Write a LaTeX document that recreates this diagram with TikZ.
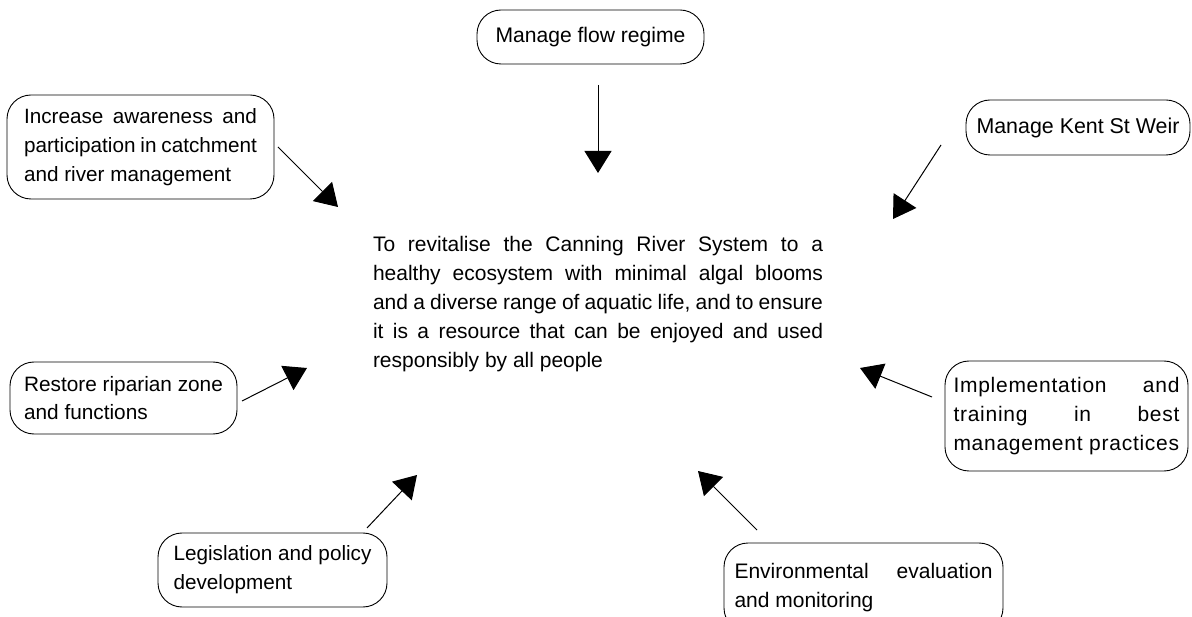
\documentclass[tikz,border=0pt]{standalone}
\usepackage{fontspec}
\setmainfont{Liberation Sans}
\newfontfamily\lsfont[LetterSpace=3.5]{Liberation Sans}
\usetikzlibrary{arrows.meta}
\newcommand{\jline}[2]{\hbox to #1{\spaceskip=0.278em plus 1.5em minus 0.12em\xspaceskip=\spaceskip #2}}
\begin{document}
\begin{tikzpicture}[x=1pt,y=-1pt,
  box/.style={draw, line width=0.9pt, rounded corners=24pt, inner sep=0pt, align=left,
    font=\fontsize{20.7}{28.8}\selectfont},
  arr/.style={line width=1pt, -{Triangle[length=22pt,width=27pt]}},
  goaltext/.style={inner sep=0pt, align=left,
    font=\fontsize{21}{29}\selectfont}]
\useasboundingbox (0,0) rectangle (1192,617);
\clip (0,0) rectangle (1192,617);

\node[box, minimum width=227pt, minimum height=54pt, font=\fontsize{21.1}{28.8}\selectfont] (flow) at (590.5,37) {Manage flow regime};
\node[box, minimum width=267pt, minimum height=104pt] (aware) at (140.5,147)
  {\jline{233pt}{Increase awareness and}\\\jline{233pt}{participation in catchment}\\and river management};
\node[box, minimum width=224pt, minimum height=55pt, font=\fontsize{21.4}{28.8}\selectfont] (kent) at (1078,127.5) {Manage Kent St Weir};
\node[box, minimum width=227pt, minimum height=72pt, font=\fontsize{20.8}{28.8}\selectfont] (restore) at (123.5,398)
  {Restore riparian zone\\and functions};
\node[box, minimum width=243pt, minimum height=110pt, font=\fontsize{21}{28.8}\lsfont] (impl) at (1066.5,416)
  {\jline{226pt}{Implementation and}\\\jline{226pt}{training in best}\\management practices};
\node[box, minimum width=229pt, minimum height=74pt] (legis) at (272.5,570)
  {Legislation and policy\\development};
\node[box, minimum width=279pt, minimum height=89pt, font=\fontsize{21}{28.8}\selectfont] (env) at (863.5,587.5)
  {\jline{258pt}{Environmental evaluation}\\and monitoring};

\node[goaltext] (goal) at (598,304)
  {\jline{450pt}{To revitalise the Canning River System to a}\\
   \jline{450pt}{healthy ecosystem with minimal algal blooms}\\
   \jline{450pt}{and a diverse range of aquatic life, and to ensure}\\
   \jline{450pt}{it is a resource that can be enjoyed and used}\\
   \hbox to 450pt{responsibly by all people\hfill}};

\coordinate (fs) at (598,85);   \coordinate (ft) at (598,173);
\coordinate (as) at (278,147);  \coordinate (at) at (338,207);
\coordinate (ks) at (941,145);  \coordinate (kt) at (893,219);
\coordinate (rs) at (242,401);  \coordinate (rt) at (307,368);
\coordinate (is) at (932,397);  \coordinate (it) at (860,368);
\coordinate (ls) at (367,528);  \coordinate (lt) at (417,475);
\coordinate (es) at (757,530);  \coordinate (et) at (698,471);

\draw[arr] (fs) -- (ft);
\draw[arr] (as) -- (at);
\draw[arr] (ks) -- (kt);
\draw[arr] (rs) -- (rt);
\draw[arr] (is) -- (it);
\draw[arr] (ls) -- (lt);
\draw[arr] (es) -- (et);
\end{tikzpicture}
\end{document}
